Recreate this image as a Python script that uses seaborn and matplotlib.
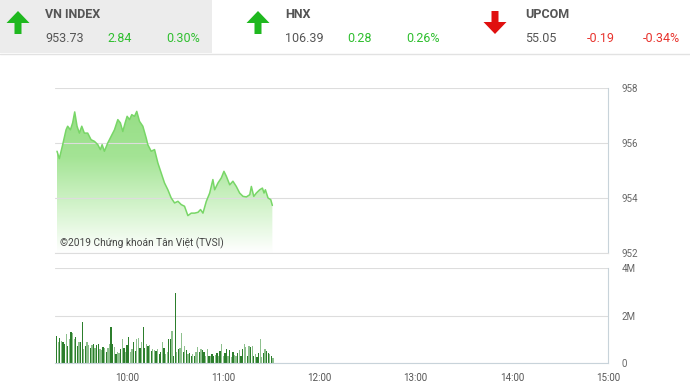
import numpy as np
import pandas as pd
import seaborn as sns
import matplotlib.pyplot as plt
from matplotlib.patches import Rectangle, FancyArrow
from matplotlib.colors import LinearSegmentedColormap
from matplotlib.ticker import FuncFormatter

# header quotes
indices = ['VN INDEX', 'HNX', 'UPCOM']
last = ['953.73', '106.39', '55.05']
change = ['2.84', '0.28', '-0.19']
pct = ['0.30%', '0.26%', '-0.34%']

# intraday price (minutes after 9:00)
price_min = [16.25, 17.7, 19.8, 21.9, 22.9, 24.6, 26.0, 27.3, 28.75, 30.2, 31.7, 33.3,
             35.4, 37.5, 39.6, 41.7, 43.3, 44.4, 45.8, 47.9, 50.0, 52.1, 54.2, 55.8,
             57.3, 58.75, 60.0, 61.5, 62.9, 64.6, 66.0, 67.7, 69.8, 71.9, 72.9, 75.0,
             77.1, 79.2, 81.25, 83.3, 85.4, 87.5, 89.6, 91.7, 93.75, 95.8, 97.9, 100.0,
             102.1, 104.2, 105.8, 107.3, 109.4, 111.5, 113.5, 114.6, 116.7, 118.75, 120.4,
             121.9, 124.0, 126.0, 128.1, 130.2, 132.3, 134.4, 136.5, 137.5, 139.0, 140.6,
             142.7, 144.4, 145.4, 146.25, 147.9, 149.6, 150.6]
price = [955.70, 955.43, 955.94, 956.48, 956.61, 956.48, 956.73, 957.13, 956.61, 956.36,
         956.61, 956.36, 956.36, 956.12, 956.06, 955.94, 955.76, 955.94, 955.70, 956.00,
         956.24, 956.48, 956.85, 956.73, 956.42, 956.73, 956.97, 956.85, 957.03, 956.97,
         957.15, 956.79, 956.61, 956.18, 955.94, 955.70, 955.76, 955.27, 954.91, 954.55,
         954.30, 954.00, 953.82, 953.88, 953.76, 953.70, 953.36, 953.45, 953.45, 953.48,
         953.58, 953.45, 953.88, 954.18, 954.67, 954.30, 954.55, 954.73, 954.97, 954.79,
         954.48, 954.61, 954.42, 954.18, 954.06, 954.04, 954.12, 954.42, 954.06, 954.18,
         954.30, 954.36, 954.18, 954.30, 954.00, 953.94, 953.73]

# per-minute volume (thousand shares), first bar at 9:16
vol_start = 16
volume = [1120, 868, 1064, 938, 868, 798, 1218, 700, 1008, 1316, 1260, 1008, 1078, 728,
          900, 896, 1708, 588, 700, 868, 756, 650, 756, 798, 616, 756, 784, 588, 560, 658,
          616, 448, 616, 798, 1498, 800, 658, 378, 448, 420, 588, 1008, 620, 448, 756,
          1078, 448, 588, 868, 500, 1008, 1036, 616, 868, 1498, 616, 798, 700, 756, 518,
          588, 560, 518, 588, 378, 450, 896, 616, 378, 476, 1008, 1008, 1358, 308, 2968,
          448, 588, 616, 1260, 448, 728, 560, 378, 406, 308, 378, 308, 448, 658, 448, 588,
          560, 476, 280, 588, 280, 308, 378, 308, 336, 406, 308, 518, 798, 308, 420, 588,
          308, 560, 238, 448, 336, 308, 406, 560, 308, 588, 798, 658, 308, 700, 658, 700,
          308, 378, 266, 420, 1008, 238, 406, 588, 518, 420, 378, 308, 224]
# D = dark bar, L = light bar
side = list("DLDLDDLDLDLLDDLDDLDLLDLDLDDLLDLDLLDDLDLLDLDLDDLLDDLLDLDDLDLDLLDLDDLDLLDDLDDL"
            "DLLDLDLDDLDLLDLDDLLDLDDLDLDLLDDLDLDLLDLDDLLDLDLDLDDLLDLDDLDLLD")

time_labels = ['10:00', '11:00', '12:00', '13:00', '14:00', '15:00']

n = min(len(volume), len(side))
price_df = pd.DataFrame({'t': price_min, 'price': price})
vol_df = pd.DataFrame({'t': vol_start + np.arange(n),
                       'vol': np.array(volume[:n]) * 1000,
                       'side': side[:n]})

sns.set_style('white')
plt.rcParams['font.family'] = ['Roboto', 'DejaVu Sans']

fig = plt.figure(figsize=(6.9, 3.9), dpi=100)

# header drawn in pixel coordinates
hd = fig.add_axes([0, 0, 1, 1], zorder=0)
hd.set_xlim(0, 690)
hd.set_ylim(390, 0)
hd.axis('off')
hd.add_patch(Rectangle((0, 0), 212, 53, color='#ececec', lw=0))
hd.plot([0, 690], [53.5, 53.5], color='#e2e2e2', lw=1)

green = '#2fbf2f'
red = '#e8332d'
xs = [0, 240, 480]
for i, name in enumerate(indices):
    x0 = xs[i]
    up = not change[i].startswith('-')
    if up:
        hd.add_patch(FancyArrow(x0 + 18, 34, 0, -23, width=7, head_width=23, head_length=12,
                                length_includes_head=True, color='#1fb81f', lw=0))
    else:
        hd.add_patch(FancyArrow(x0 + 15, 11, 0, 23, width=7, head_width=23, head_length=12,
                                length_includes_head=True, color='#e0100f', lw=0))
    hd.text(x0 + 45, 15, name, fontsize=9, fontweight='bold', color='#555555', va='center')
    hd.text(x0 + 45, 38, last[i], fontsize=9, color='#555555', va='center')
    hd.text(x0 + 107, 38, change[i], fontsize=9, color=green if up else red, va='center')
    hd.text(x0 + 200, 38, pct[i], fontsize=9, color=green if up else red, va='center', ha='right')

grid_col = '#dddddd'
spine_col = '#c8d3da'

# price panel
ax = fig.add_axes([55 / 690, 1 - 253 / 390, 553 / 690, 165 / 390], zorder=1)
sns.lineplot(data=price_df, x='t', y='price', ax=ax, color='#78d667', lw=1.1)
fill = ax.fill_between(price_df['t'], price_df['price'], 952, color='none', lw=0)
grad = np.linspace(1, 0, 256).reshape(-1, 1)
cmap = LinearSegmentedColormap.from_list('g', ['#ffffff', '#d2f3ca', '#a4e495', '#96de85'])
img = ax.imshow(grad, cmap=cmap, aspect='auto', extent=[15, 360, 952, 957.2],
                origin='upper', zorder=0.5)
img.set_clip_path(fill.get_paths()[0], transform=ax.transData)
ax.set_xlim(15, 360)
ax.set_ylim(952, 958)
ax.set_yticks([952, 954, 956, 958])
ax.yaxis.tick_right()
ax.tick_params(axis='y', length=0, labelsize=7, labelcolor='#666666', pad=10)
ax.set_xticks([])
ax.set_xlabel('')
ax.set_ylabel('')
ax.grid(axis='y', color=grid_col, lw=0.8)
for s in ['left', 'top']:
    ax.spines[s].set_visible(False)
ax.spines['right'].set_color(spine_col)
ax.spines['bottom'].set_color(grid_col)
ax.text(18, 952.25, '©2019 Chứng khoán Tân Việt (TVSI)', fontsize=7.3, color='#444444')

# volume panel
vx = fig.add_axes([55 / 690, 1 - 363 / 390, 553 / 690, 95 / 390], zorder=1)
sns.barplot(data=vol_df, x='t', y='vol', hue='side', palette={'D': '#1e8c1e', 'L': '#86c886'},
            native_scale=True, dodge=False, width=0.8, legend=False, ax=vx, lw=0)
vx.set_xlim(15, 360)
vx.set_ylim(0, 4e6)
vx.set_yticks([0, 2e6, 4e6])
vx.yaxis.set_major_formatter(FuncFormatter(lambda v, p: '0' if v == 0 else f'{v / 1e6:.0f}M'))
vx.yaxis.tick_right()
vx.tick_params(axis='y', length=0, labelsize=7, labelcolor='#666666', pad=10)
vx.set_xticks([60, 120, 180, 240, 300, 360])
vx.set_xticklabels(time_labels)
vx.tick_params(axis='x', length=5, color=spine_col, labelsize=7, labelcolor='#555555', pad=2)
vx.set_xlabel('')
vx.set_ylabel('')
vx.grid(axis='y', color=grid_col, lw=0.8)
vx.set_axisbelow(True)
for s in ['left', 'top']:
    vx.spines[s].set_visible(False)
vx.spines['right'].set_color(spine_col)
vx.spines['bottom'].set_color(spine_col)

fig.savefig('out.png', dpi=100)
